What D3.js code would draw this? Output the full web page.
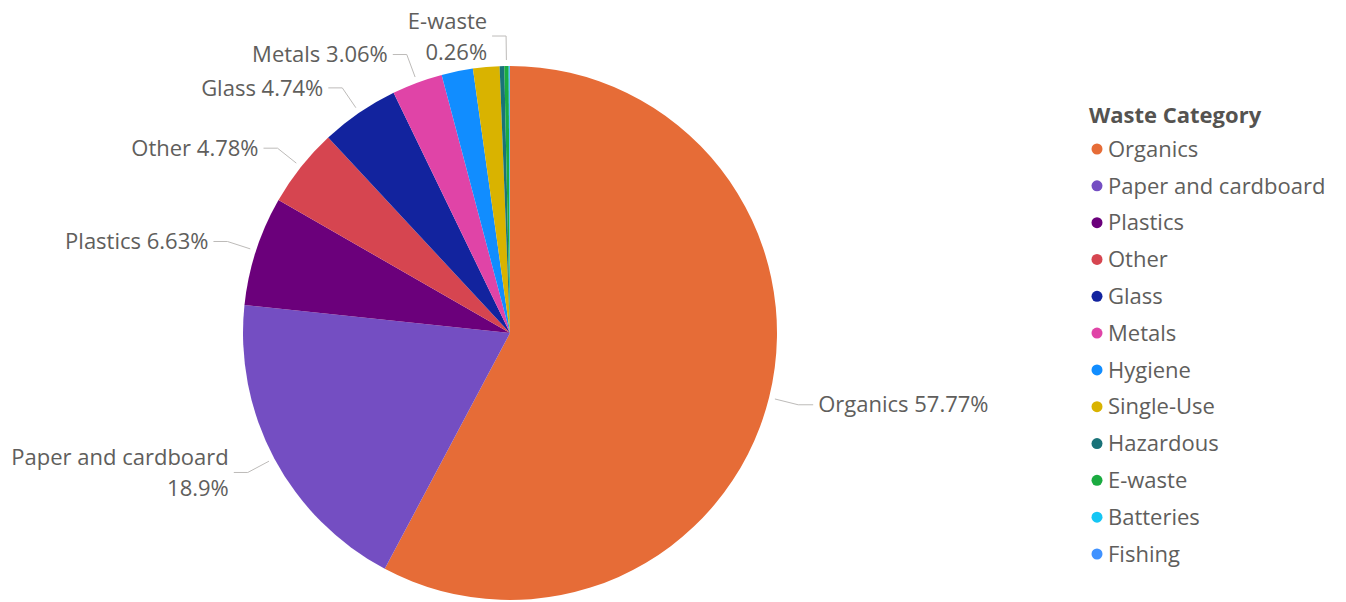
<!DOCTYPE html>
<html>
<head>
<meta charset="utf-8">
<script src="https://cdn.jsdelivr.net/npm/d3@7"></script>
<style>
    body { margin: 0; background: #fff; }
    svg { display: block; font-family: "Segoe UI", "Open Sans", sans-serif; }
</style>
</head>
<body>
<div id="chart"></div>
<script>
// Waste share by category (percent)
const categories = ["Organics", "Paper and cardboard", "Plastics", "Other", "Glass", "Metals",
    "Hygiene", "Single-Use", "Hazardous", "E-waste", "Batteries", "Fishing"];
const shares = [57.77, 18.9, 6.63, 4.78, 4.74, 3.06, 1.9, 1.6, 0.28, 0.26, 0.05, 0.03];
const colors = ["#E66C37", "#744EC2", "#6B007B", "#D64550", "#12239E", "#E044A7",
    "#118DFF", "#D9B300", "#197278", "#1AAB40", "#15C6F4", "#4092FF"];
// slices that get an outside label, and the ones whose label wraps onto two lines
const labelled = ["Organics", "Paper and cardboard", "Plastics", "Other", "Glass", "Metals", "E-waste"];
const wrapped = ["Paper and cardboard", "E-waste"];

const width = 1346;
const height = 602;
const cx = 510, cy = 333, radius = 267;
const fontSize = 22;

const data = categories.map((c, i) => ({ name: c, value: shares[i], color: colors[i] }));

const svg = d3.select("#chart")
    .append("svg")
    .attr("width", width)
    .attr("height", height);

const g = svg.append("g").attr("transform", `translate(${cx},${cy})`);

const pie = d3.pie().sort(null).value(d => d.value);
const arc = d3.arc().innerRadius(0).outerRadius(radius);
const arcs = pie(data);

g.selectAll("path")
    .data(arcs)
    .join("path")
    .attr("d", arc)
    .attr("fill", d => d.data.color);

// Leader lines + labels
const startArc = d3.arc().innerRadius(radius + 6).outerRadius(radius + 6);
const elbowArc = d3.arc().innerRadius(radius + 30).outerRadius(radius + 30);
const fmt = v => `${v}%`;

const labels = g.append("g")
    .selectAll("g")
    .data(arcs.filter(d => labelled.includes(d.data.name)))
    .join("g");

labels.each(function (d) {
    const sel = d3.select(this);
    const p0 = startArc.centroid(d);
    const p1 = elbowArc.centroid(d);
    const right = p1[0] > 0;
    const p2 = [p1[0] + (right ? 15 : -14), p1[1]];

    sel.append("polyline")
        .attr("points", [p0, p1, p2].map(p => p.join(",")).join(" "))
        .attr("fill", "none")
        .attr("stroke", "#BDBBB9")
        .attr("stroke-width", 1);

    const tx = p2[0] + (right ? 5 : -5);
    const text = sel.append("text")
        .attr("text-anchor", right ? "start" : "end")
        .attr("fill", "#605E5C")
        .attr("font-size", fontSize);

    if (wrapped.includes(d.data.name)) {
        text.append("tspan").attr("x", tx).attr("y", p1[1] - 15).attr("dy", "0.35em").text(d.data.name);
        text.append("tspan").attr("x", tx).attr("y", p1[1] + 16).attr("dy", "0.35em").text(fmt(d.data.value));
    } else {
        text.attr("x", tx).attr("y", p1[1]).attr("dy", "0.35em")
            .text(`${d.data.name} ${fmt(d.data.value)}`);
    }
});

// Legend
const legend = svg.append("g").attr("transform", "translate(1089,115)");

legend.append("text")
    .attr("y", 0)
    .attr("dy", "0.35em")
    .attr("font-size", fontSize)
    .attr("font-weight", "bold")
    .attr("fill", "#555350")
    .text("Waste Category");

const y = d3.scalePoint().domain(categories).range([34, 439]);

const item = legend.selectAll(".item")
    .data(data)
    .join("g")
    .attr("class", "item")
    .attr("transform", d => `translate(0,${y(d.name)})`);

item.append("circle")
    .attr("cx", 8)
    .attr("r", 5.5)
    .attr("fill", d => d.color);

item.append("text")
    .attr("x", 19)
    .attr("dy", "0.35em")
    .attr("font-size", fontSize)
    .attr("fill", "#605E5C")
    .text(d => d.name);
</script>
</body>
</html>
